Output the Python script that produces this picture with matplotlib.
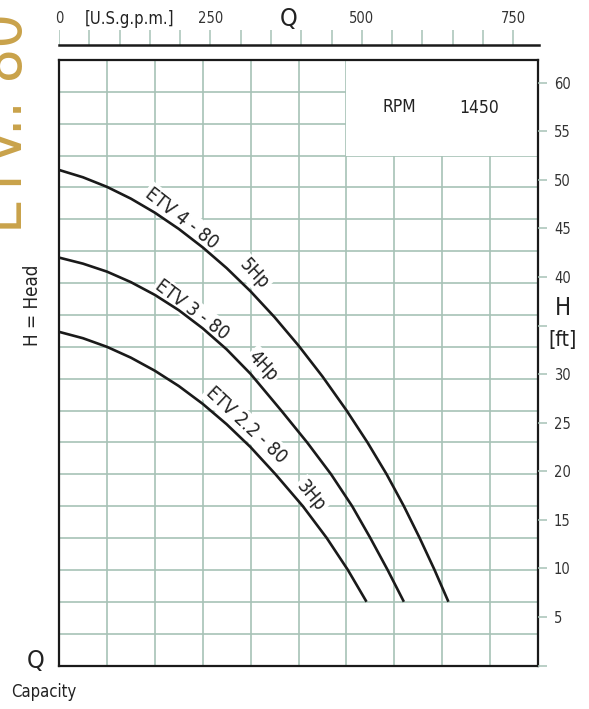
import numpy as np
import matplotlib
matplotlib.use("Agg")
import matplotlib.pyplot as plt
from matplotlib.patches import Rectangle

# flow in l/s, head in m
q_etv4 = [0, 2.5, 5, 7.5, 10, 12.5, 15, 17.5, 20, 22.5, 25, 27.5, 30, 32.2, 34.2, 36.0, 37.65, 39.2, 40.65]
h_etv4 = [15.55, 15.32, 15.02, 14.65, 14.21, 13.70, 13.12, 12.47, 11.74, 10.93, 10.04, 9.07, 8.01, 7.0, 6.0, 5.0, 4.0, 3.0, 2.0]

q_etv3 = [0, 2.5, 5, 7.5, 10, 12.5, 15, 17.5, 20, 23.2, 25.9, 28.4, 30.6, 32.5, 34.3, 36.0]
h_etv3 = [12.8, 12.61, 12.36, 12.03, 11.63, 11.15, 10.58, 9.92, 9.15, 8.0, 7.0, 6.0, 5.0, 4.0, 3.0, 2.0]

q_etv22 = [0, 2.5, 5, 7.5, 10, 12.5, 15, 17.5, 20, 22.6, 25.45, 27.95, 30.15, 32.1]
h_etv22 = [10.47, 10.27, 10.0, 9.66, 9.25, 8.77, 8.21, 7.57, 6.85, 6.0, 5.0, 4.0, 3.0, 2.0]

curve_names = ["ETV 4 - 80", "ETV 3 - 80", "ETV 2.2 - 80"]
curve_hp = ["5Hp", "4Hp", "3Hp"]

gpm_ticks = list(range(0, 800, 50))
gpm_labels = ["0", "250", "500", "750"]
ft_ticks = list(range(0, 65, 5))

GPM_PER_LS = 15.850
FT_PER_M = 3.2808
grid_col = "#a7c2b6"
gold = "#c9a24a"
plt.rcParams["font.family"] = ["DejaVu Sans"]
plt.rcParams["font.stretch"] = "condensed"

W, H = 589, 709
fig = plt.figure(figsize=(W / 100, H / 100), dpi=100)

def fx(px):
    return px / W

def fy(py):
    return 1 - py / H

ax = fig.add_axes([fx(59), fy(665.5), fx(538) - fx(59), fy(60) - fy(665.5)])
ax.set_xlim(0, 50)
ax.set_ylim(0, 19)
ax.set_xticks(np.arange(0, 51, 5))
ax.set_yticks(np.arange(0, 20, 1))
ax.grid(True, color=grid_col, lw=1.2)
ax.set_axisbelow(True)
ax.tick_params(length=0, labelleft=False, labelbottom=False)
for s in ax.spines.values():
    s.set_linewidth(1.6)
    s.set_color("#1a1a1a")
    s.set_zorder(5)

# white panel with the speed
ax.add_patch(Rectangle((30, 16), 20, 3, facecolor="white", edgecolor="none", zorder=1))
ax.text(35.5, 17.52, "RPM", fontsize=12.5, ha="center", va="center", color="#222222")
ax.text(43.9, 17.5, "1450", fontsize=12.5, ha="center", va="center", color="#222222")

for q, h in [(q_etv4, h_etv4), (q_etv3, h_etv3), (q_etv22, h_etv22)]:
    ax.plot(q, h, color="#1a1a1a", lw=1.9, zorder=4, solid_capstyle="butt")

box = dict(facecolor="white", edgecolor="none", pad=1.5)
label_pos = [(12.84, 14.04, -38), (13.9, 11.15, -37), (19.6, 7.55, -43)]
hp_pos = [(20.35, 12.28, -47), (21.3, 9.4, -47), (26.3, 5.32, -50)]
for name, (x, y, r) in zip(curve_names, label_pos):
    ax.text(x, y, name, fontsize=13.5, rotation=r, ha="center", va="center",
            rotation_mode="anchor", bbox=box, zorder=3, color="#222222")
for name, (x, y, r) in zip(curve_hp, hp_pos):
    ax.text(x, y, name, fontsize=13.5, rotation=r, ha="center", va="center",
            rotation_mode="anchor", bbox=box, zorder=3, color="#222222")

# right axis in feet
axr = ax.twinx()
axr.set_ylim(0, 19 * FT_PER_M)
axr.set_yticks(ft_ticks)
axr.set_yticklabels(["" if (t == 0 or t == 35) else str(t) for t in ft_ticks])
axr.tick_params(axis="y", length=6.5, width=1.1, color=grid_col, pad=5,
                labelsize=10.5, labelcolor="#333333")
for s in axr.spines.values():
    s.set_visible(False)
fig.text(fx(563), fy(308), "H", fontsize=17, ha="center", va="center", color="#222222")
fig.text(fx(563), fy(340), "[ft]", fontsize=15, ha="center", va="center", color="#222222")

# top axis in US gpm
axt = fig.add_axes([fx(59), fy(45), fx(539) - fx(59), fy(30) - fy(45)])
axt.set_xlim(0, 50 * GPM_PER_LS)
axt.set_ylim(0, 1)
axt.set_yticks([])
axt.set_xticks(gpm_ticks)
axt.set_xticklabels([str(t) if str(t) in gpm_labels else "" for t in gpm_ticks])
axt.xaxis.tick_top()
axt.tick_params(axis="x", length=0, pad=3, labelsize=10.5, labelcolor="#333333")
for t in gpm_ticks:
    axt.axvline(t, color=grid_col, lw=1.1)
axt.patch.set_alpha(0)
for k in ["top", "left", "right"]:
    axt.spines[k].set_visible(False)
axt.spines["bottom"].set_linewidth(1.8)
axt.spines["bottom"].set_color("#1a1a1a")

fig.text(fx(130), fy(19), "[U.S.g.p.m.]", fontsize=12, ha="center", va="center", color="#222222")
fig.text(fx(289), fy(19), "Q", fontsize=18, ha="center", va="center", color="#222222")

# left side texts
fig.text(fx(33), fy(305), "H = Head", fontsize=13.5, rotation=90, ha="center", va="center", color="#222222")
fig.text(fx(36), fy(661), "Q", fontsize=18, ha="center", va="center", color="#222222")
fig.text(fx(44), fy(692), "Capacity", fontsize=12, ha="center", va="center", color="#222222")
fig.text(fx(22), fy(233), "ETV.. 80", fontsize=44, rotation=90, ha="left", va="baseline",
         rotation_mode="anchor", color=gold)

fig.savefig("out.png", dpi=100)
